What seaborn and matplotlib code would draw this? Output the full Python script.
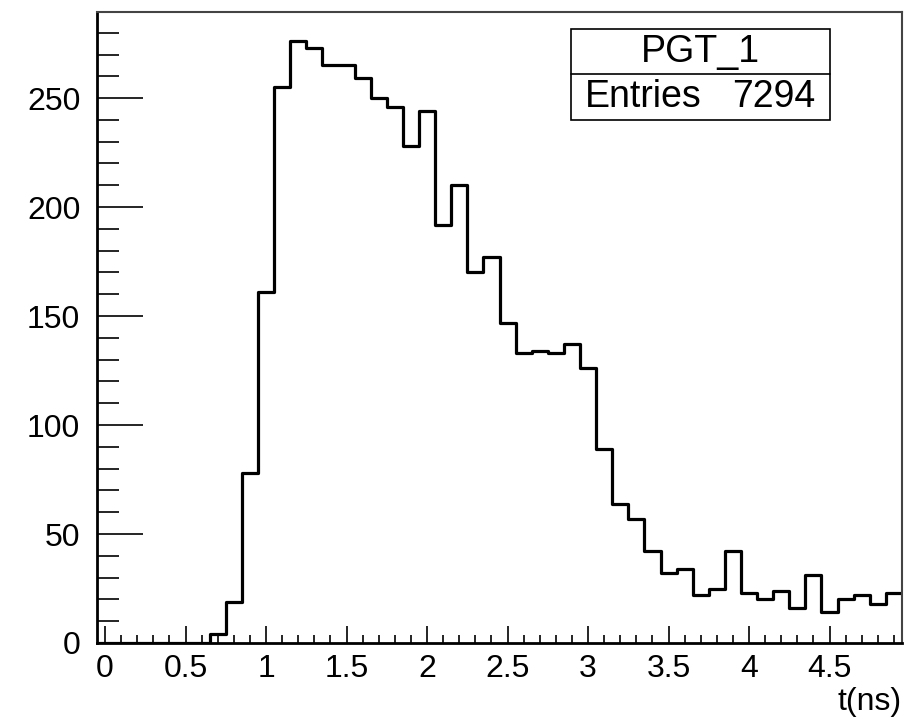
import numpy as np
import seaborn as sns
import matplotlib.pyplot as plt
from matplotlib.patches import Rectangle
from matplotlib.lines import Line2D
from matplotlib.ticker import MultipleLocator, FormatStrFormatter

# bin centres (ns), 50 bins of 0.1 from -0.05 to 4.95
t_centers = np.round(np.arange(0.0, 5.0, 0.1), 1)
counts = [0, 0, 0, 0, 0, 0, 0, 4, 19, 78,
          161, 255, 276, 273, 265, 265, 259, 250, 246, 228,
          244, 192, 210, 170, 177, 147, 133, 134, 133, 137,
          126, 89, 64, 57, 42, 32, 34, 22, 25, 42,
          23, 20, 24, 16, 31, 14, 20, 22, 18, 23]
hist_name = 'PGT_1'
n_entries = 7294

sns.set_style('ticks')
plt.rcParams['font.family'] = ['Liberation Sans', 'DejaVu Sans']
plt.rcParams['text.color'] = 'black'
plt.rcParams['axes.labelcolor'] = 'black'

fig = plt.figure(figsize=(9.24, 7.21), dpi=100)
ax = fig.add_axes([97/924, 78/721, 805/924, 631/721])

sns.histplot(x=t_centers, weights=counts, bins=50, binrange=(-0.05, 4.95),
             element='step', fill=False, color='black', linewidth=2.3, ax=ax)

ax.set_xlim(-0.05, 4.95)
ax.set_ylim(0, 289.5)
ax.set_ylabel('')
ax.set_xlabel('t(ns)', fontsize=23, loc='right', labelpad=2, color='black')

ax.xaxis.set_major_locator(MultipleLocator(0.5))
ax.xaxis.set_minor_locator(MultipleLocator(0.1))
ax.yaxis.set_major_locator(MultipleLocator(50))
ax.yaxis.set_minor_locator(MultipleLocator(10))
ax.xaxis.set_major_formatter(FormatStrFormatter('%g'))
ax.yaxis.set_major_formatter(FormatStrFormatter('%g'))

ax.tick_params(axis='both', which='both', direction='in', labelsize=23,
               color='black', labelcolor='black')
ax.tick_params(axis='x', which='major', length=12, width=1.2, pad=8)
ax.tick_params(axis='x', which='minor', length=6, width=1.2)
ax.tick_params(axis='y', which='major', length=33, width=1.2, pad=12)
ax.tick_params(axis='y', which='minor', length=16, width=1.2)

for side in ['left', 'bottom']:
    ax.spines[side].set_color('black')
    ax.spines[side].set_linewidth(2)
for side in ['top', 'right']:
    ax.spines[side].set_visible(True)
    ax.spines[side].set_color('#444444')
    ax.spines[side].set_linewidth(1.5)

# stats box
box_l, box_r = 571/924, 830/924
box_t, box_b = 1 - 29/721, 1 - 120/721
box_mid = 1 - 74/721
fig.patches.append(Rectangle((box_l, box_b), box_r - box_l, box_t - box_b,
                             transform=fig.transFigure, fill=True, facecolor='white',
                             edgecolor='black', linewidth=1.2, zorder=5))
fig.lines.append(Line2D([box_l, box_r], [box_mid, box_mid], transform=fig.transFigure,
                        color='black', linewidth=1.2, zorder=6))
fig.text((box_l + box_r) / 2, (box_t + box_mid) / 2, hist_name, ha='center', va='center',
         fontsize=27, color='black', zorder=7)
fig.text(585/924, (box_mid + box_b) / 2, 'Entries', ha='left', va='center',
         fontsize=27, color='black', zorder=7)
fig.text(815/924, (box_mid + box_b) / 2, f'{n_entries}', ha='right', va='center',
         fontsize=27, color='black', zorder=7)

fig.savefig('out.png', dpi=100)
